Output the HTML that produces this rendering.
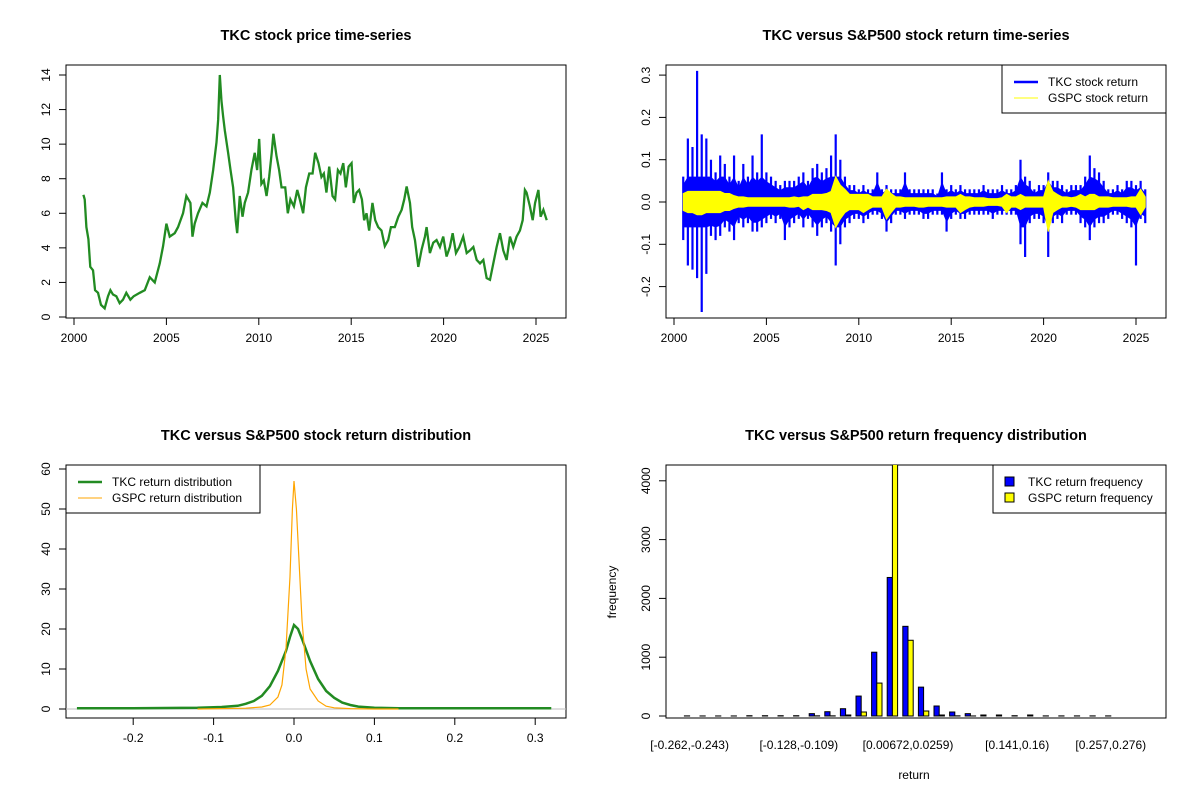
<!DOCTYPE html>
<html><head><meta charset="utf-8"><style>
body{margin:0;background:#fff}
svg{display:block;font-family:"Liberation Sans",Arial,sans-serif}
</style></head><body>
<svg id="fig" width="1200" height="800" viewBox="0 0 1200 800">
<defs>
<clipPath id="c1"><rect x="66" y="65" width="500" height="253"/></clipPath>
<clipPath id="c2"><rect x="666" y="65" width="500" height="253"/></clipPath>
<clipPath id="c3"><rect x="66" y="465" width="500" height="253"/></clipPath>
<clipPath id="c4"><rect x="666" y="465" width="500" height="253"/></clipPath>
</defs>
</svg>
<script>
// ---------- data ----------
const priceYears=[2000.51,2000.58,2000.67,2000.78,2000.88,2001.03,2001.14,2001.30,2001.46,2001.66,2001.84,2001.97,2002.11,2002.29,2002.47,2002.65,2002.83,2003.05,2003.23,2003.56,2003.83,2004.10,2004.37,2004.64,2004.82,2005.00,2005.18,2005.45,2005.63,2005.90,2006.08,2006.30,2006.41,2006.53,2006.71,2006.95,2007.17,2007.35,2007.53,2007.71,2007.80,2007.89,2007.98,2008.07,2008.16,2008.34,2008.47,2008.61,2008.75,2008.83,2008.97,2009.12,2009.24,2009.42,2009.60,2009.78,2009.91,2010.02,2010.14,2010.27,2010.42,2010.56,2010.70,2010.79,2010.96,2011.10,2011.23,2011.43,2011.57,2011.71,2011.90,2012.08,2012.22,2012.40,2012.55,2012.73,2012.91,2013.05,2013.23,2013.39,2013.52,2013.66,2013.81,2013.99,2014.13,2014.28,2014.42,2014.57,2014.71,2014.86,2015.02,2015.14,2015.29,2015.43,2015.58,2015.70,2015.83,2015.97,2016.15,2016.30,2016.46,2016.64,2016.82,2017.00,2017.15,2017.36,2017.55,2017.73,2017.87,2018.00,2018.18,2018.30,2018.45,2018.63,2018.81,2018.99,2019.08,2019.26,2019.44,2019.62,2019.80,2019.98,2020.16,2020.34,2020.49,2020.67,2020.85,2021.06,2021.25,2021.43,2021.61,2021.79,2021.97,2022.15,2022.33,2022.51,2022.69,2022.87,2023.05,2023.23,2023.41,2023.59,2023.77,2023.95,2024.13,2024.28,2024.40,2024.49,2024.67,2024.82,2024.95,2025.13,2025.25,2025.40,2025.58];
const priceValues=[7.07,6.8,5.2,4.5,2.9,2.7,1.55,1.4,0.7,0.5,1.2,1.55,1.3,1.2,0.8,1.0,1.4,1.0,1.2,1.4,1.55,2.3,2.0,3.1,4.1,5.4,4.65,4.85,5.2,6.0,7.0,6.6,4.65,5.4,6.0,6.6,6.4,7.2,8.5,10.1,11.4,14.0,12.5,11.6,10.8,9.5,8.5,7.5,5.6,4.85,7.0,5.8,6.6,7.2,8.5,9.5,8.5,10.3,7.7,7.9,7.0,8.1,9.5,10.6,9.3,8.5,7.5,7.5,6.0,6.8,6.4,7.35,6.8,6.0,7.5,8.3,8.3,9.5,8.9,8.1,8.3,7.2,8.7,7.0,6.8,8.5,8.3,8.9,7.5,8.7,8.9,6.6,7.2,7.35,6.8,5.6,6.0,5.0,6.6,5.6,5.2,5.0,4.1,4.45,5.2,5.2,5.8,6.2,6.8,7.55,6.6,5.2,4.45,2.9,3.9,4.65,5.2,3.7,4.3,4.45,4.05,4.65,3.5,4.05,4.85,3.7,4.05,4.65,3.7,3.85,4.05,3.3,3.1,3.3,2.25,2.15,3.1,4.05,4.85,3.85,3.3,4.65,4.05,4.65,5.0,5.6,7.35,7.2,6.4,5.6,6.6,7.35,5.8,6.2,5.6];
const priceTicks=[0,2,4,6,8,10,12,14];
const yearTicks=[2000,2005,2010,2015,2020,2025];

const retYears=[2000.5,2000.75,2001,2001.25,2001.5,2001.75,2002,2002.25,2002.5,2002.75,2003,2003.25,2003.5,2003.75,2004,2004.25,2004.5,2004.75,2005,2005.25,2005.5,2005.75,2006,2006.25,2006.5,2006.75,2007,2007.25,2007.5,2007.75,2008,2008.25,2008.5,2008.75,2009,2009.25,2009.5,2009.75,2010,2010.25,2010.5,2010.75,2011,2011.25,2011.5,2011.75,2012,2012.25,2012.5,2012.75,2013,2013.25,2013.5,2013.75,2014,2014.25,2014.5,2014.75,2015,2015.25,2015.5,2015.75,2016,2016.25,2016.5,2016.75,2017,2017.25,2017.5,2017.75,2018,2018.25,2018.5,2018.75,2019,2019.25,2019.5,2019.75,2020,2020.25,2020.5,2020.75,2021,2021.25,2021.5,2021.75,2022,2022.25,2022.5,2022.75,2023,2023.25,2023.5,2023.75,2024,2024.25,2024.5,2024.75,2025,2025.25,2025.5];
const tkcHigh=[.06,.15,.13,.31,.16,.15,.10,.07,.11,.09,.06,.11,.05,.09,.06,.11,.07,.16,.07,.06,.05,.04,.05,.05,.05,.06,.07,.05,.08,.09,.07,.08,.11,.16,.10,.06,.04,.04,.03,.04,.03,.03,.07,.03,.04,.03,.03,.03,.07,.03,.03,.03,.03,.03,.03,.02,.07,.03,.04,.03,.04,.03,.03,.03,.03,.04,.03,.03,.03,.04,.03,.03,.04,.10,.06,.05,.03,.04,.04,.07,.05,.05,.04,.03,.04,.04,.04,.06,.11,.08,.07,.05,.03,.03,.04,.03,.05,.05,.04,.05,.03];
const tkcLow=[-.09,-.15,-.16,-.18,-.26,-.17,-.08,-.09,-.08,-.06,-.07,-.09,-.05,-.06,-.05,-.07,-.07,-.06,-.05,-.04,-.05,-.04,-.09,-.06,-.05,-.04,-.06,-.04,-.06,-.08,-.06,-.05,-.07,-.15,-.10,-.06,-.05,-.04,-.04,-.05,-.04,-.03,-.03,-.04,-.07,-.05,-.03,-.03,-.04,-.03,-.03,-.03,-.04,-.04,-.03,-.03,-.03,-.07,-.04,-.03,-.04,-.04,-.03,-.03,-.03,-.03,-.03,-.04,-.03,-.03,-.03,-.03,-.03,-.10,-.13,-.05,-.04,-.04,-.05,-.13,-.05,-.04,-.05,-.03,-.03,-.03,-.05,-.06,-.09,-.06,-.05,-.05,-.04,-.03,-.03,-.04,-.05,-.06,-.15,-.04,-.05];
const gspcHigh=[.02,.025,.025,.025,.025,.025,.025,.025,.025,.02,.02,.015,.012,.012,.01,.01,.01,.01,.01,.01,.01,.01,.01,.01,.012,.01,.012,.012,.018,.018,.018,.02,.025,.06,.04,.03,.018,.018,.018,.018,.018,.012,.012,.012,.03,.02,.012,.012,.01,.01,.01,.01,.01,.01,.01,.01,.01,.012,.012,.012,.018,.012,.012,.01,.01,.01,.008,.008,.008,.01,.018,.012,.012,.018,.012,.012,.012,.012,.012,.05,.025,.018,.012,.012,.01,.012,.018,.012,.018,.018,.012,.012,.012,.01,.01,.01,.01,.012,.012,.03,.012];
const gspcLow=[-.02,-.025,-.025,-.03,-.03,-.025,-.025,-.025,-.025,-.02,-.02,-.015,-.012,-.012,-.01,-.01,-.01,-.01,-.01,-.01,-.01,-.01,-.01,-.012,-.012,-.01,-.018,-.012,-.018,-.018,-.018,-.02,-.025,-.06,-.04,-.025,-.018,-.018,-.018,-.025,-.018,-.012,-.012,-.012,-.04,-.025,-.012,-.012,-.01,-.01,-.01,-.012,-.012,-.01,-.01,-.01,-.01,-.012,-.012,-.012,-.025,-.018,-.012,-.01,-.01,-.01,-.008,-.008,-.008,-.01,-.025,-.012,-.012,-.018,-.012,-.012,-.012,-.012,-.012,-.07,-.025,-.018,-.012,-.012,-.01,-.012,-.018,-.018,-.018,-.018,-.012,-.012,-.012,-.01,-.01,-.01,-.01,-.012,-.012,-.03,-.012];
const retTicks=[-0.2,-0.1,0.0,0.1,0.2,0.3];

const densX=[-0.27,-0.2,-0.12,-0.09,-0.07,-0.06,-0.05,-0.04,-0.03,-0.02,-0.01,-0.005,0,0.005,0.01,0.02,0.03,0.04,0.05,0.06,0.07,0.08,0.1,0.13,0.2,0.32];
const densTKC=[0.2,0.2,0.3,0.5,0.8,1.3,2.0,3.3,5.7,9.5,14.5,18,21,20,17.5,12,7.5,4.5,2.8,1.6,1.0,0.6,0.3,0.2,0.2,0.2];
const densGX=[-0.12,-0.06,-0.04,-0.03,-0.02,-0.015,-0.01,-0.005,-0.002,0,0.003,0.006,0.01,0.015,0.02,0.03,0.04,0.05,0.07,0.1,0.13];
const densGSPC=[0,0.2,0.5,1,3,6,15,33,50,57,50,38,22,10,5,2,0.7,0.3,0.1,0,0];
const densXTicks=[-0.2,-0.1,0,0.1,0.2,0.3];
const densYTicks=[0,10,20,30,40,50,60];

const binLabels=["[-0.262,-0.243)","[-0.128,-0.109)","[0.00672,0.0259)","[0.141,0.16)","[0.257,0.276)"];
const binLabelIdx=[1,8,15,22,28];
const tkcFreq=[2,1,1,1,5,5,5,5,40,73,124,339,1085,2356,1525,491,170,68,40,17,17,5,17,2,2,2,2,2];
const gspcFreq=[0,0,0,0,0,0,0,0,3,3,17,68,560,4500,1288,85,17,3,1,0,0,0,0,0,0,0,0,0];
const freqTicks=[0,1000,2000,3000,4000];

// ---------- helpers ----------
const svg=document.getElementById('fig');
const NS='http://www.w3.org/2000/svg';
function mk(tag,attrs,parent){const e=document.createElementNS(NS,tag);for(const k in attrs)e.setAttribute(k,attrs[k]);(parent||svg).appendChild(e);return e;}
function txt(s,x,y,attrs,parent){const e=mk('text',Object.assign({x:x,y:y,'font-size':12,fill:'#000','text-anchor':'middle'},attrs),parent);e.textContent=s;return e;}
function lin(d0,d1,r0,r1){return v=>r0+(v-d0)*(r1-r0)/(d1-d0);}

function panel(name,box,title){
  const g=mk('g',{});
  
  
  const r=mk('rect',{x:box.x,y:box.y,width:box.w,height:box.h,fill:'none',stroke:'#000','stroke-width':1},g);
  
  
  const t=txt(title,box.x+box.w/2,40+(box.y-65),{'font-size':14.5,'font-weight':'bold'},g);
  
  
  return g;
}
function xAxis(g,box,ticks,sx,fmt){
  const a=mk('g',{},g);
  
  
  const yb=box.y+box.h;
  mk('line',{x1:sx(ticks[0]),x2:sx(ticks[ticks.length-1]),y1:yb,y2:yb,stroke:'#000'},a);
  ticks.forEach(t=>{const x=sx(t);mk('line',{x1:x,x2:x,y1:yb,y2:yb+7,stroke:'#000'},a);
    const l=txt(fmt(t),x,yb+24,{},a);
    
    });
}
function yAxis(g,box,ticks,sy,fmt){
  const a=mk('g',{},g);
  
  
  const xl=box.x;
  mk('line',{x1:xl,x2:xl,y1:sy(ticks[0]),y2:sy(ticks[ticks.length-1]),stroke:'#000'},a);
  ticks.forEach(t=>{const y=sy(t);mk('line',{x1:xl,x2:xl-7,y1:y,y2:y,stroke:'#000'},a);
    const l=txt(fmt(t),xl-16,y,{transform:`rotate(-90 ${xl-16} ${y})`},a);
    
    });
}
function legend(g,x,y,w,h,items){
  const lg=mk('g',{},g);
  
  
  mk('rect',{x:x,y:y,width:w,height:h,fill:'#fff',stroke:'#000'},lg);
  items.forEach((it,i)=>{const yy=y+17+i*16;
    const e=mk('g',{},lg);
    
    
    if(it.box){mk('rect',{x:x+12,y:yy-5,width:9,height:9,fill:it.color,stroke:'#000'},e);}
    else mk('line',{x1:x+12,x2:x+36,y1:yy,y2:yy,stroke:it.color,'stroke-width':it.w},e);
    txt(it.label,x+(it.box?35:46),yy+4,{'text-anchor':'start'},e);});
}

// ---------- panel 1 ----------
{const box={x:66,y:65,w:500,h:253};
const g=panel('price-panel',box,'TKC stock price time-series');
const sx=lin(2000,2025,74,536), sy=lin(0,14,317,75);
xAxis(g,box,yearTicks,sx,String);
yAxis(g,box,priceTicks,sy,String);
const p=mk('polyline',{points:priceYears.map((v,i)=>sx(v)+','+sy(priceValues[i])).join(' '),fill:'none',stroke:'#228B22','stroke-width':2.3,'stroke-linejoin':'miter','clip-path':'url(#c1)'},g);

}

// ---------- panel 2 ----------
{const box={x:666,y:65,w:500,h:253};
const g=panel('return-panel',box,'TKC versus S&P500 stock return time-series');
const sx=lin(2000,2025,674,1136), sy=lin(0,0.1,202,159.7);
xAxis(g,box,yearTicks,sx,String);
yAxis(g,box,retTicks,sy,v=>v.toFixed(1));
const s=mk('g',{'clip-path':'url(#c2)'},g);


const core=retYears.map((v,i)=>sx(v)+','+sy(Math.min(tkcHigh[i]*0.7,0.06))).concat(retYears.map((v,i)=>sx(v)+','+sy(Math.max(tkcLow[i]*0.7,-0.06))).reverse());
mk('polygon',{points:core.join(' '),fill:'#0000FF'},s);
retYears.forEach((v,i)=>{mk('line',{x1:sx(v),x2:sx(v),y1:sy(tkcHigh[i]),y2:sy(tkcLow[i]),stroke:'#0000FF','stroke-width':2.2},s);});
const gy=retYears.map((v,i)=>sx(v)+','+sy(gspcHigh[i])).concat(retYears.map((v,i)=>sx(v)+','+sy(gspcLow[i])).reverse());
const gp=mk('polygon',{points:gy.join(' '),fill:'#FFFF00',stroke:'#FFFF00','stroke-width':1},g);


legend(g,1002,65,164,48,[{label:'TKC stock return',color:'#0000FF',w:2.5},{label:'GSPC stock return',color:'#FFFF00',w:1}]);}

// ---------- panel 3 ----------
{const box={x:66,y:465,w:500,h:253};
const g=panel('density-panel',box,'TKC versus S&P500 stock return distribution');
const sx=lin(0,0.1,294,374.4), sy=lin(0,10,709,669);
xAxis(g,box,densXTicks,sx,v=>v===0?'0.0':String(v));
yAxis(g,box,densYTicks,sy,String);
mk('line',{x1:66,x2:566,y1:sy(0),y2:sy(0),stroke:'#BEBEBE'},g);
const t=mk('polyline',{points:densX.map((v,i)=>sx(v)+','+sy(densTKC[i])).join(' '),fill:'none',stroke:'#228B22','stroke-width':2.5,'clip-path':'url(#c3)'},g);


const q=mk('polyline',{points:densGX.map((v,i)=>sx(v)+','+sy(densGSPC[i])).join(' '),fill:'none',stroke:'#FFA500','stroke-width':1.2,'clip-path':'url(#c3)'},g);


legend(g,66,465,194,48,[{label:'TKC return distribution',color:'#228B22',w:2.5},{label:'GSPC return distribution',color:'#FFA500',w:1}]);}

// ---------- panel 4 ----------
{const box={x:666,y:465,w:500,h:253};
const g=panel('histogram-panel',box,'TKC versus S&P500 return frequency distribution');
const sy=lin(0,1000,716,657.2);
const cx=k=>689.6+(k-1)*15.6, bw=5.2;
yAxis(g,box,freqTicks,sy,String);
const bars=mk('g',{'clip-path':'url(#c4)'},g);
tkcFreq.forEach((v,i)=>{const b=mk('rect',{x:cx(i+1)-bw,y:sy(v),width:bw,height:sy(0)-sy(v),fill:'#0000FF',stroke:'#000','stroke-width':1},bars);
  
  });
gspcFreq.forEach((v,i)=>{const b=mk('rect',{x:cx(i+1),y:sy(v),width:bw,height:sy(0)-sy(v),fill:'#FFFF00',stroke:'#000','stroke-width':1},bars);
  
  });
binLabels.forEach((s,i)=>{const l=txt(s,cx(binLabelIdx[i]),749,{},g);
  
  });
const xt=txt('return',914,779,{},g);


const yt=txt('frequency',616,592,{transform:'rotate(-90 616 592)'},g);


legend(g,993,465,173,48,[{label:'TKC return frequency',color:'#0000FF',box:true},{label:'GSPC return frequency',color:'#FFFF00',box:true}]);}
</script>
</body></html>
